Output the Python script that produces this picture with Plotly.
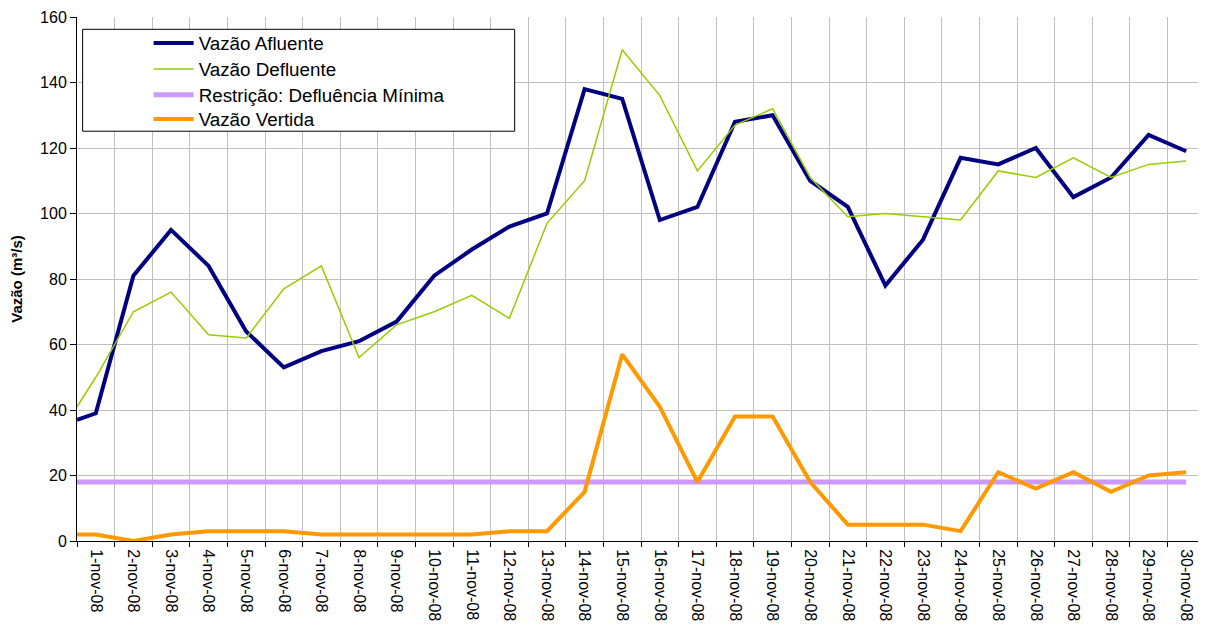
import plotly.graph_objects as go

# x positions (day of month); first point sits at the left edge of the axis
dias = [0.5, 1, 2, 3, 4, 5, 6, 7, 8, 9, 10, 11, 12, 13, 14, 15, 16, 17, 18, 19, 20,
        21, 22, 23, 24, 25, 26, 27, 28, 29, 30]

tick_pos = [1, 2, 3, 4, 5, 6, 7, 8, 9, 10, 11, 12, 13, 14, 15, 16, 17, 18, 19, 20,
            21, 22, 23, 24, 25, 26, 27, 28, 29, 30]
tick_labels = ["1-nov-08", "2-nov-08", "3-nov-08", "4-nov-08", "5-nov-08", "6-nov-08",
               "7-nov-08", "8-nov-08", "9-nov-08", "10-nov-08", "11-nov-08", "12-nov-08",
               "13-nov-08", "14-nov-08", "15-nov-08", "16-nov-08", "17-nov-08", "18-nov-08",
               "19-nov-08", "20-nov-08", "21-nov-08", "22-nov-08", "23-nov-08", "24-nov-08",
               "25-nov-08", "26-nov-08", "27-nov-08", "28-nov-08", "29-nov-08", "30-nov-08"]
boundaries = [0.5, 1.5, 2.5, 3.5, 4.5, 5.5, 6.5, 7.5, 8.5, 9.5, 10.5, 11.5, 12.5, 13.5,
              14.5, 15.5, 16.5, 17.5, 18.5, 19.5, 20.5, 21.5, 22.5, 23.5, 24.5, 25.5,
              26.5, 27.5, 28.5, 29.5, 30.5]

afluente = [37, 39, 81, 95, 84, 64, 53, 58, 61, 67, 81, 89, 96, 100, 138, 135, 98, 102,
            128, 130, 110, 102, 78, 92, 117, 115, 120, 105, 111, 124, 119]
defluente = [41, 50, 70, 76, 63, 62, 77, 84, 56, 66, 70, 75, 68, 97, 110, 150, 136, 113,
             127, 132, 111, 99, 100, 99, 98, 113, 111, 117, 111, 115, 116]
restricao = [18, 18, 18, 18, 18, 18, 18, 18, 18, 18, 18, 18, 18, 18, 18, 18, 18, 18,
             18, 18, 18, 18, 18, 18, 18, 18, 18, 18, 18, 18, 18]
vertida = [2, 2, 0, 2, 3, 3, 3, 2, 2, 2, 2, 2, 3, 3, 15, 57, 41, 18, 38, 38, 18, 5, 5,
           5, 3, 21, 16, 21, 15, 20, 21]

FONT = "Liberation Sans, Arial, sans-serif"

fig = go.Figure()
fig.add_trace(go.Scatter(x=dias, y=afluente, mode="lines", name="Vazão Afluente",
                         line=dict(color="#000080", width=4), legend="legend"))
fig.add_trace(go.Scatter(x=dias, y=defluente, mode="lines", name="Vazão Defluente",
                         line=dict(color="#99cc00", width=1.5), legend="legend2"))
fig.add_trace(go.Scatter(x=dias, y=restricao, mode="lines", name="Restrição: Defluência Mínima",
                         line=dict(color="#cc99ff", width=5), legend="legend3"))
fig.add_trace(go.Scatter(x=dias, y=vertida, mode="lines", name="Vazão Vertida",
                         line=dict(color="#ff9900", width=4), legend="legend4"))


def leg(yc):
    return dict(x=0.0635, xanchor="left", y=yc, yanchor="middle",
                bgcolor="rgba(0,0,0,0)", borderwidth=0,
                font=dict(family=FONT, size=18.8, color="black"),
                itemwidth=40)


fig.update_layout(
    width=1198, height=623,
    margin=dict(l=69, r=1, t=9, b=90),
    paper_bgcolor="white", plot_bgcolor="white",
    font=dict(family=FONT, size=16, color="black"),
    showlegend=True,
    legend=leg(0.9498),
    legend2=leg(0.9002),
    legend3=leg(0.8511),
    legend4=leg(0.8048),
    shapes=[dict(type="rect", xref="paper", yref="paper",
                 x0=0.005, x1=0.388, y0=0.782, y1=0.9765,
                 line=dict(color="black", width=1), fillcolor="white", layer="above")],
)

fig.update_xaxes(
    range=[0.5, 30.5], automargin=False,
    tickmode="array", tickvals=tick_pos, ticktext=tick_labels,
    tickangle=90, ticks="", showgrid=False, zeroline=False, ticklabelstandoff=4,
    showline=True, linecolor="black", linewidth=1,
    tickfont=dict(family=FONT, size=16, color="black"),
    minor=dict(tickmode="array", tickvals=boundaries, ticks="outside", ticklen=5,
               tickcolor="black", tickwidth=1, showgrid=True, gridcolor="#c0c0c0",
               gridwidth=1),
)
fig.update_yaxes(
    range=[0, 160], tickmode="linear", tick0=0, dtick=20, automargin=False,
    ticks="outside", ticklen=6, tickcolor="black",
    showline=True, linecolor="black", linewidth=1,
    showgrid=True, gridcolor="#c0c0c0", gridwidth=1, zeroline=False,
    tickfont=dict(family=FONT, size=16, color="black"),
    title=dict(text="<b>Vazão (m³/s)</b>", font=dict(family=FONT, size=15, color="black"),
               standoff=14),
)

fig.write_html("out.html")
